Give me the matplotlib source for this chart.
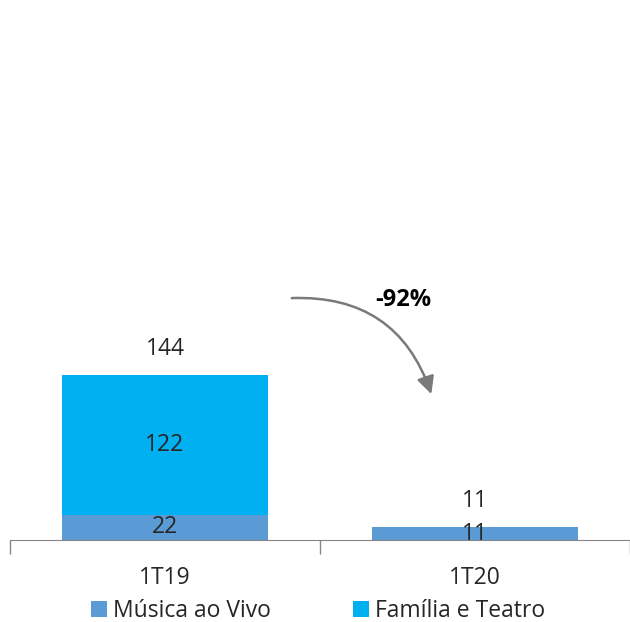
import matplotlib.pyplot as plt
from matplotlib.patches import FancyArrowPatch
import numpy as np

plt.rcParams["font.family"] = ["Open Sans", "DejaVu Sans"]

periods = ["1T19", "1T20"]
musica = [22, 11]
familia = [122, 0]
totals = [144, 11]
change_label = "-92%"

c_musica = "#5B9BD5"
c_familia = "#00B0F0"
txt = "#262626"
fs = 16.5

fig = plt.figure(figsize=(6.3, 6.22), dpi=100)
ax = fig.add_axes([10 / 630, 82 / 622, 620 / 630, 540 / 622])

x = np.arange(len(periods))
w = 0.665
ax.bar(x, musica, w, color=c_musica, label="Música ao Vivo")
ax.bar(x, familia, w, bottom=musica, color=c_familia, label="Família e Teatro")

for i in range(len(periods)):
    ax.text(x[i], musica[i] / 2, str(musica[i]), ha="center", va="center",
            fontsize=fs, color=txt)
    if familia[i] > 0:
        ax.text(x[i], musica[i] + familia[i] / 2, str(familia[i]),
                ha="center", va="center", fontsize=fs, color=txt)
    ax.text(x[i], totals[i] + 23, str(totals[i]), ha="center", va="center",
            fontsize=fs, color=txt)

# curved arrow showing the drop
arrow = FancyArrowPatch((0.40, 211), (0.862, 125),
                        connectionstyle="arc3,rad=-0.38",
                        arrowstyle="-|>,head_length=7,head_width=3.5",
                        color="#7a7a7a", lw=1.8, mutation_scale=1.5)
ax.add_patch(arrow)
ax.text(0.77, 209, change_label, ha="center", va="center", fontsize=17,
        fontweight="bold", color="black")

ax.set_xlim(-0.5, 1.5)
ax.set_ylim(0, 540 / 1.146)
ax.set_xticks(x)
ax.set_xticklabels(periods, fontsize=fs, color=txt)
ax.set_xticks([-0.5, 0.5, 1.5], minor=True)
ax.tick_params(axis="x", which="major", length=0, pad=19)
ax.tick_params(axis="x", which="minor", length=10, color="#868686", width=1)
ax.set_yticks([])
for s in ["top", "left", "right"]:
    ax.spines[s].set_visible(False)
ax.spines["bottom"].set_color("#868686")

fig.legend(loc="center", bbox_to_anchor=(0.505, 11 / 622), ncol=2, frameon=False,
           fontsize=fs, handlelength=0.7, handleheight=0.7, handletextpad=0.25,
           columnspacing=3.6, labelcolor=txt)

fig.savefig("out.png", dpi=100)
